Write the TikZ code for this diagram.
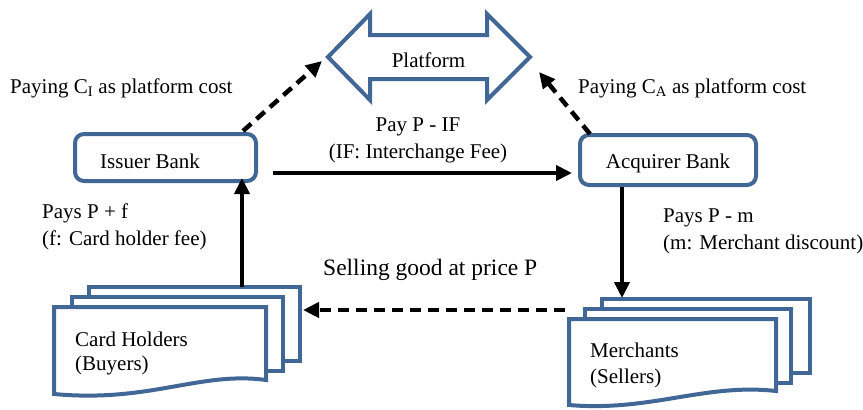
\documentclass[tikz,border=0pt]{standalone}
\usepackage{fontspec}
\setmainfont{Liberation Serif}
\usetikzlibrary{arrows.meta,calc}
\definecolor{frame}{RGB}{64,103,150}
\newcommand\twoL[2]{\begin{tabular}[t]{@{}l@{}}#1\\#2\end{tabular}}
\newcommand\twoC[2]{\begin{tabular}[t]{@{}c@{}}#1\\#2\end{tabular}}
\begin{document}
\begin{tikzpicture}[x=1pt,y=-1pt,
 txt/.style={font=\fontsize{21}{27}\selectfont, inner sep=0pt, anchor=base west},
 bank/.style={draw=frame, line width=4pt, rounded corners=9pt, fill=white},
 page/.style={draw=frame, line width=4pt, fill=white, line join=miter},
 solidarrow/.style={line width=4.5pt, -{Triangle[length=16pt,width=15pt]}},
 dasharrow/.style={solidarrow, dash pattern=on 11pt off 7pt},
]
\useasboundingbox (0,0) rectangle (863,410);

% platform
\draw[page] (328,57) -- (370,14) -- (370,35) -- (487,35) -- (487,14) -- (530,57)
  -- (487,100) -- (487,79) -- (370,79) -- (370,100) -- cycle;
\node[txt, anchor=base] (platform) at (428.5,67) {Platform};
\coordinate (platL) at (322,61);
\coordinate (platR) at (539,72);

% banks
\node[bank, minimum width=181pt, minimum height=47pt] (issuer) at (165.5,157.5) {};
\node[txt] (issuertext) at (100,168) {Issuer Bank};
\node[bank, minimum width=176pt, minimum height=50pt] (acquirer) at (668,160) {};
\node[txt, anchor=base] (acquirertext) at (668,168) {Acquirer Bank};

% card holders pages
\node[page, minimum width=211pt, minimum height=74pt] (chback) at (194.5,324) {};
\node[page, minimum width=211pt, minimum height=74pt] (chmid) at (177.5,334) {};
\coordinate (chf) at (54,307);
\draw[page] (chf) -- (266,307) -- (266,380) .. controls (200,371) and (150,403) .. (54,394) -- cycle;
\node[txt, font=\fontsize{21}{24}\selectfont] (chtext) at (75,346) {\twoL{Card Holders}{(Buyers)}};

% merchants pages
\node[page, minimum width=208pt, minimum height=74pt] (mback) at (706,336) {};
\node[page, minimum width=206pt, minimum height=74pt] (mmid) at (688,346) {};
\coordinate (mf) at (569,319);
\draw[page] (mf) -- (776,319) -- (776,391) .. controls (705,383) and (650,412) .. (569,405) -- cycle;
\node[txt, font=\fontsize{21}{26}\selectfont] (mtext) at (590,357) {\twoL{Merchants}{(Sellers)}};

% arrows
\draw[dasharrow] ($(issuer.north)+(77.5,-1)$) -- (platL);
\draw[dasharrow] ($(acquirer.north)+(-78,1)$) -- (platR);
\draw[solidarrow] ($(issuer.east)+(15,15.5)$) -- ($(acquirer.west)+(-6,13)$);
\draw[solidarrow] ($(chback.north)+(47.5,2)$) -- ($(issuer.south)+(76.5,-5)$);
\draw[solidarrow] ($(acquirer.south)+(-46,0)$) -- ($(mback.north)+(-84,1)$);
\draw[dasharrow] ($(mf)+(-4,-9)$) -- ($(chback.east)+(1,-14)$);

% labels
\node[txt] (costI) at (10,93) {Paying C\textsubscript{I} as platform cost};
\node[txt] (costA) at (578,93) {Paying C\textsubscript{A} as platform cost};
\node[txt, anchor=base] (ifee) at (418,131) {\twoC{Pay P - IF}{(IF: Interchange Fee)}};
\node[txt, font=\fontsize{23.5}{28}\selectfont] (selling) at (323,275) {Selling good at price P};
\node[txt] (payf) at (42,218) {\twoL{Pays P + f}{(f: Card holder fee)}};
\node[txt] (paym) at (663,222) {\twoL{Pays P - m}{(m: Merchant discount)}};
\end{tikzpicture}
\end{document}
